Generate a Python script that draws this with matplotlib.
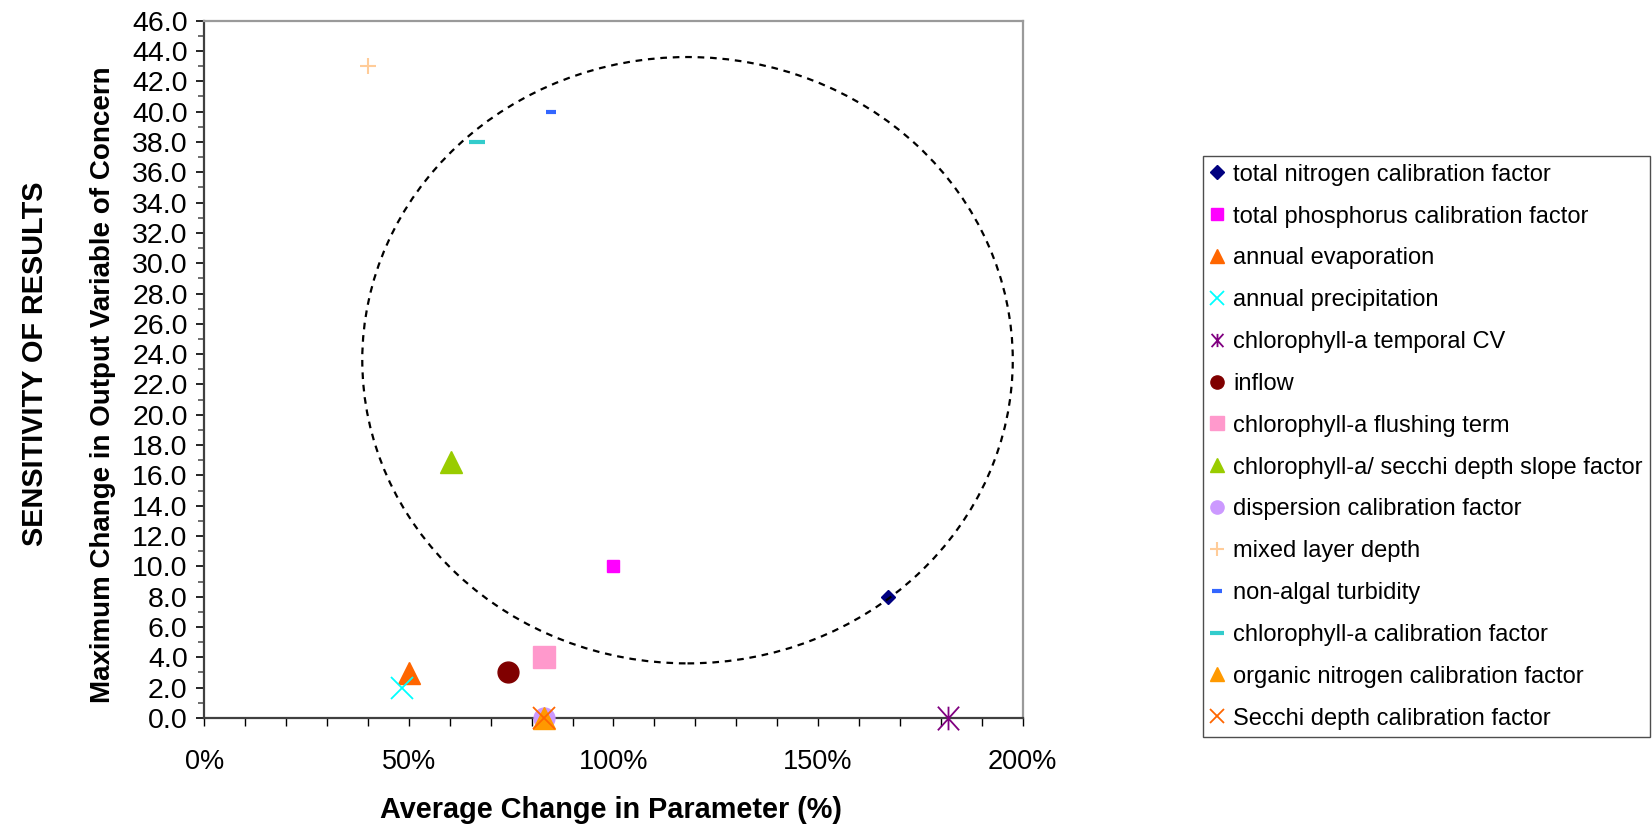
import numpy as np
import matplotlib
matplotlib.use("Agg")
import matplotlib.pyplot as plt
from matplotlib.patches import Ellipse
from matplotlib.lines import Line2D
from matplotlib.path import Path
from matplotlib.ticker import MultipleLocator, PercentFormatter, FormatStrFormatter

plt.rcParams['font.family'] = ['Liberation Sans', 'DejaVu Sans']

# parameters (legend order = drawing order)
params = ['total nitrogen calibration factor',
          'total phosphorus calibration factor',
          'annual evaporation',
          'annual precipitation',
          'chlorophyll-a temporal CV',
          'inflow',
          'chlorophyll-a flushing term',
          'chlorophyll-a/ secchi depth slope factor',
          'dispersion calibration factor',
          'mixed layer depth',
          'non-algal turbidity',
          'chlorophyll-a calibration factor',
          'organic nitrogen calibration factor',
          'Secchi depth calibration factor']

# average change in parameter (fraction, shown as %)
avg_change = [1.67, 1.00, 0.50, 0.482, 1.817, 0.741, 0.831, 0.603, 0.831, 0.40, 0.847, 0.666, 0.831, 0.831]
# maximum change in output variable of concern
max_change = [8.0, 10.0, 2.95, 1.96, 0.0, 3.0, 4.0, 16.9, 0.0, 43.0, 40.0, 38.0, 0.0, 0.0]

# dashed circle drawn around the cluster (centre x, centre y, width, height)
circle_xy = (1.181, 23.6)
circle_w = 1.59
circle_h = 40.0

asterisk = Path([(0, -1), (0, 1), (-0.9, -1), (0.9, 1), (-0.9, 1), (0.9, -1)],
                [Path.MOVETO, Path.LINETO] * 3)

colors = ['#000080', '#FF00FF', '#FF6600', '#00FFFF', '#800080', '#800000', '#FF99CC',
          '#99CC00', '#CC99FF', '#FFCC99', '#3366FF', '#33CCCC', '#FF9900', '#FF6600']
markers = ['D', 's', '^', 'x', asterisk, 'o', 's', '^', 'o', '+', '_', '_', '^', 'x']
msizes = [7.2, 9.2, 16, 16, 17, 15, 15.6, 16.5, 15, 11, 6.5, 11, 16.5, 16.5]
lined = [False, False, False, True, True, False, False, False, False, True, True, True, False, True]
mews = [1, 1, 1, 1.3, 1.3, 1, 1, 1, 1, 1.5, 3, 3, 1, 1.3]


def PlotSensitivity():
    fig = plt.figure(figsize=(16.52, 8.26), dpi=100)
    ax = fig.add_axes([0.1237, 0.1308, 0.6190 - 0.1237, 0.975 - 0.1308])

    handles = []
    for i in range(len(params)):
        if lined[i]:
            kw = dict(markerfacecolor='none', markeredgecolor=colors[i])
        else:
            kw = dict(markerfacecolor=colors[i], markeredgecolor=colors[i])
        ax.plot(avg_change[i], max_change[i], linestyle='none', marker=markers[i],
                markersize=msizes[i], markeredgewidth=mews[i], clip_on=False, zorder=3 + i * 0.01, **kw)
        handles.append(Line2D([], [], linestyle='none', marker=markers[i],
                              markersize=min(msizes[i], 9.5), markeredgewidth=mews[i], **kw))

    ell = Ellipse(circle_xy, circle_w, circle_h, fill=False, edgecolor='black',
                  linewidth=1.6, linestyle=(0, (3, 2.6)), zorder=5)
    ax.add_patch(ell)

    ax.set_xlim(0, 2.0)
    ax.set_ylim(0, 46.0)
    ax.xaxis.set_major_locator(MultipleLocator(0.5))
    ax.xaxis.set_minor_locator(MultipleLocator(0.1))
    ax.xaxis.set_major_formatter(PercentFormatter(xmax=1.0, decimals=0))
    ax.yaxis.set_major_locator(MultipleLocator(2.0))
    ax.yaxis.set_minor_locator(MultipleLocator(1.0))
    ax.yaxis.set_major_formatter(FormatStrFormatter('%.1f'))

    ax.tick_params(axis='x', which='both', direction='out', length=6, width=1, color='#000000',
                   labelsize=19.5, pad=16)
    ax.tick_params(axis='y', which='major', direction='out', length=6, width=1.2, color='#000000',
                   labelsize=20.5, pad=6)
    ax.tick_params(axis='y', which='minor', direction='out', length=4.3, width=1.2, color='#555555')

    for s in ['left', 'bottom']:
        ax.spines[s].set_color('#404040')
        ax.spines[s].set_linewidth(1.6)
    for s in ['top', 'right']:
        ax.spines[s].set_color('#9a9a9a')
        ax.spines[s].set_linewidth(1.6)

    fig.text(0.370, 0.019, 'Average Change in Parameter (%)', ha='center', va='center',
             fontsize=20.8, fontweight='bold')
    fig.text(0.0625, 0.534, 'Maximum Change in Output Variable of Concern', ha='center', va='center',
             rotation=90, fontsize=20, fontweight='bold')
    fig.text(0.021, 0.56, 'SENSITIVITY OF RESULTS', ha='center', va='center',
             rotation=90, fontsize=20.8, fontweight='bold')

    leg = fig.legend(handles, params, loc='upper left', bbox_to_anchor=(0.728, 0.811),
                     bbox_transform=fig.transFigure, fontsize=17, frameon=True, fancybox=False,
                     borderaxespad=0, borderpad=0.32, handlelength=0.6, handletextpad=0.38,
                     labelspacing=0.84)
    leg.get_frame().set_edgecolor('#222222')
    leg.get_frame().set_linewidth(1.0)

    fig.savefig('out.png', dpi=100, facecolor='white')


PlotSensitivity()
